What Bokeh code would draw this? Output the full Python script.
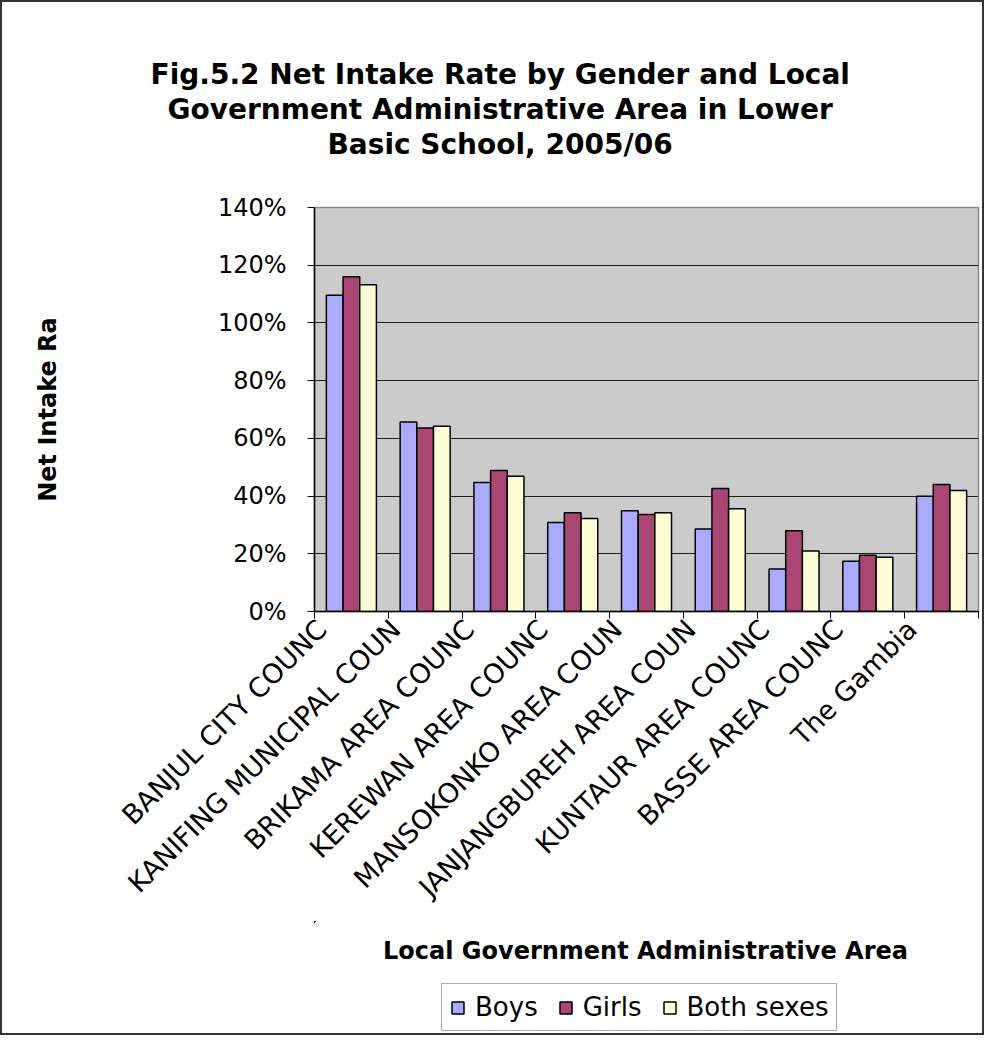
import numpy as np
from bokeh.core.properties import value
from bokeh.embed import file_html
from bokeh.layouts import column
from bokeh.models import (ColumnDataSource, CustomJSTickFormatter, FixedTicker, Legend,
                          LegendItem, PrintfTickFormatter, Range1d, Title)
from bokeh.plotting import figure
from bokeh.resources import INLINE
from bokeh.transform import dodge


# Data (in percent)
areas = [
    "BANJUL CITY COUNC",
    "KANIFING MUNICIPAL COUN",
    "BRIKAMA AREA COUNC",
    "KEREWAN AREA COUNC",
    "MANSOKONKO AREA COUN",
    "JANJANGBUREH AREA COUN",
    "KUNTAUR AREA COUNC",
    "BASSE AREA COUNC",
    "The Gambia",
]
boys = [109.6, 65.7, 44.7, 30.8, 34.9, 28.6, 14.7, 17.4, 39.9]
girls = [116.0, 63.6, 48.9, 34.2, 33.6, 42.6, 28.0, 19.5, 44.0]
both_sexes = [113.2, 64.2, 46.9, 32.2, 34.2, 35.6, 21.0, 18.8, 41.9]
y_ticks = [0, 20, 40, 60, 80, 100, 120, 140]

title_lines = [
    "Fig.5.2 Net Intake Rate by Gender and Local",
    "Government Administrative Area in Lower",
    "Basic School, 2005/06",
]
title_offsets = [-164, -147, 13]   # start of each line relative to the plot area's left edge

FONT = "DejaVu Sans"
BAR_W = 0.226
W = 980            # inner width; a 2px border goes round the whole chart
LEFT, RIGHT = 312, 4
COLORS = {"boys": "#AAAAFF", "girls": "#A94674", "both": "#FFFFD5"}


def blank(height, top, bottom, y_range=None):
    f = figure(width=W, height=height, x_range=Range1d(314, 978),
               y_range=y_range or Range1d(0, 1),
               output_backend="svg", toolbar_location=None, tools="", title_location=None,
               x_axis_location=None, y_axis_location=None,
               min_border_left=LEFT, min_border_right=RIGHT,
               min_border_top=top, min_border_bottom=bottom)
    f.grid.visible = False
    f.outline_line_color = None
    f.background_fill_color = "white"
    f.border_fill_color = "white"
    return f


n = len(areas)
source = ColumnDataSource(dict(pos=np.arange(n) + 0.5, boys=boys, girls=girls, both=both_sexes))

# --- title block (titles stack upwards from an empty frame)
head = blank(191, 158, 0)
for text, off in reversed(list(zip(title_lines, title_offsets))):
    head.add_layout(Title(text=text, align="left", offset=off, standoff=0,
                          text_font=FONT, text_font_style="bold", text_font_size="28px",
                          text_color="black"), "above")

# --- main chart
p = figure(
    width=W, height=14 + 404 + 310,
    x_range=Range1d(0, n), y_range=Range1d(0, 140),
    output_backend="svg", toolbar_location=None, tools="", title_location=None,
    min_border_left=LEFT, min_border_right=RIGHT, min_border_top=14, min_border_bottom=310,
)
p.background_fill_color = "#CBCBCB"
p.border_fill_color = "white"
p.outline_line_color = "#8A8A8A"
p.outline_line_width = 1.5

for col, off in zip(["boys", "girls", "both"], [-BAR_W, 0, BAR_W]):
    p.vbar(x=dodge("pos", off, range=p.x_range), top=col, width=BAR_W, source=source,
           fill_color=COLORS[col], line_color="black", line_width=1.5)

p.yaxis.ticker = FixedTicker(ticks=y_ticks)
p.yaxis.formatter = PrintfTickFormatter(format="%d%%")
p.yaxis.major_label_text_font = FONT
p.yaxis.major_label_text_font_size = "24px"
p.yaxis.major_label_text_color = "black"
p.yaxis.major_tick_out = 7
p.yaxis.major_tick_in = 0
p.yaxis.major_label_standoff = 21
p.yaxis.minor_tick_line_color = None
p.yaxis.axis_line_color = "black"
p.yaxis.axis_line_width = 1.5
p.yaxis.axis_label = "Net Intake Ra"
p.yaxis.axis_label_text_font = FONT
p.yaxis.axis_label_text_font_style = "bold"
p.yaxis.axis_label_text_font_size = "24px"
p.yaxis.axis_label_text_color = "black"
p.yaxis.axis_label_standoff = 153

p.ygrid.grid_line_color = "black"
p.ygrid.grid_line_alpha = 0.85
p.ygrid.grid_line_width = 1.2
p.xgrid.grid_line_color = None

# ticks at category boundaries, labels ending just left of each category centre
p.xaxis.ticker = FixedTicker(ticks=list(np.arange(n) + 0.1), minor_ticks=list(range(n + 1)))
p.xaxis.formatter = CustomJSTickFormatter(args=dict(labels=areas),
                                          code="return labels[Math.floor(tick)] || ''")
p.xaxis.major_label_orientation = np.pi / 4
p.xaxis.major_label_text_font = FONT
p.xaxis.major_label_text_font_size = "27px"
p.xaxis.major_label_text_color = "black"
p.xaxis.major_tick_line_color = None
p.xaxis.major_tick_out = 0
p.xaxis.major_tick_in = 0
p.xaxis.major_label_standoff = 6
p.xaxis.minor_tick_out = 7
p.xaxis.minor_tick_in = 0
p.xaxis.minor_tick_line_color = "black"
p.xaxis.axis_line_color = "black"
p.xaxis.axis_line_width = 1.5

# --- x-axis title and legend (frame in page pixels, y downwards)
foot_top = 193 + 14 + 404 + 310
foot = blank(1033 - foot_top, 0, 0, y_range=Range1d(1033, foot_top))
foot.text(x=[645], y=[950], text=["Local Government Administrative Area"],
          text_font=value(FONT), text_font_style="bold", text_font_size="24px",
          text_align="center", text_baseline="middle", text_color="black")

# legend keys: same series, lying outside this strip's range so only the keys show
keys = {}
for col in ["boys", "girls", "both"]:
    keys[col] = foot.vbar(x="pos", top=col, bottom=col, width=0.01, source=source,
                          fill_color=COLORS[col], line_color="black", line_width=1.5)

legend = Legend(
    items=[LegendItem(label="Boys", renderers=[keys["boys"]]),
           LegendItem(label="Girls", renderers=[keys["girls"]]),
           LegendItem(label="Both sexes", renderers=[keys["both"]])],
    orientation="horizontal", location=(127, 2),
    label_text_font=FONT, label_text_font_size="26px", label_text_color="black",
    glyph_width=15, glyph_height=15, label_standoff=10, spacing=20,
    padding=8, margin=0, border_line_color="#555555", border_line_width=1.5,
    background_fill_color="white",
)
foot.add_layout(legend, "center")

layout = column(head, p, foot, spacing=0, styles={"border": "2px solid #333333"})

open("out.html", "w").write(file_html(layout, INLINE))
